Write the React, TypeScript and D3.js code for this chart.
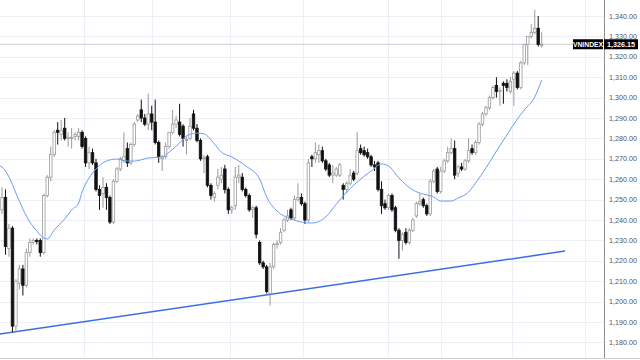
import React from "react";
import * as d3 from "d3";

// OHLC candles: [open, high, low, close]
const candles: [number, number, number, number][] = [
  [1245,1256,1243,1251],[1251,1255,1223,1227],[1226,1238,1222,1236],[1236,1237,1185,1188],
  [1188,1211,1185,1210],[1209,1218,1206,1216],[1216,1218,1203,1208],[1208,1226,1207,1224],
  [1224,1231,1222,1229],[1229,1231,1228,1230],[1230,1231,1228,1229.5],[1230,1231,1222,1224],
  [1224,1253,1223,1252],[1252,1262,1251,1261],[1261,1276,1259,1272],[1272,1284,1271,1283],
  [1284,1288,1277,1283],[1282,1289,1279,1284],[1285,1290,1279,1280],[1280,1283,1276,1280.5],
  [1280,1285,1275,1280.5],[1281,1283,1279,1282],[1281,1285,1279,1283],[1283,1284,1275,1276],
  [1280,1281,1266,1268],[1268,1276,1265,1273],[1273,1275,1267,1268],[1268,1270,1254,1255],
  [1255,1257,1245,1252],[1253,1261,1246,1256],[1256,1258,1245,1251],[1251,1252,1238,1239],
  [1239,1260,1238,1259],[1259,1266,1258,1265],[1265,1271,1264,1270],[1269,1283,1268,1271],
  [1275,1278,1266,1268],[1268,1278,1267,1277],[1277,1288,1276,1287],[1289,1292,1288,1291],
  [1294,1299,1288,1290],[1290,1292,1286,1287],[1287,1302,1284,1292],[1292,1296,1284,1288],
  [1288,1299,1277,1278],[1278,1279,1268,1271],[1270,1272,1264,1271],[1271,1278,1270,1276],
  [1276,1283,1275,1283],[1283,1294,1282,1287],[1287,1291,1285,1289],[1288,1297,1281,1282],
  [1286,1287,1276,1280],[1279,1281,1272,1279.5],[1280,1290,1279,1286],[1292,1294,1284,1285],
  [1285,1287,1278,1279],[1279,1280,1269,1270],[1270,1272,1263,1270.5],[1271,1272,1256,1257],
  [1257,1258,1250,1252],[1251,1254,1249,1253],[1257,1265,1255,1261],[1260,1266,1258,1262],
  [1265,1267,1253,1255],[1255,1256,1243,1245],[1245,1247,1243,1246],[1247,1266,1245,1261],
  [1261,1267,1258,1262],[1261,1263,1254,1255],[1255,1256,1251,1252],[1252,1253,1244,1245],
  [1245,1247,1241,1246],[1246,1247,1231,1233],[1229,1230,1218,1219],[1219,1220,1216,1217],
  [1217,1218,1204,1205],[1204,1219,1198,1217],[1217,1229,1216,1228],[1228,1230,1226,1228.5],
  [1229,1236,1228,1234],[1235,1241,1234,1240],[1240,1245,1239,1242],[1245,1246,1240,1241],
  [1241,1252,1240,1250],[1250,1258,1249,1251],[1251,1253,1247,1248],[1248,1249,1238,1240],
  [1240,1270,1239,1268],[1271,1272,1266,1270],[1270,1278,1268,1273],[1272,1277,1268,1274],
  [1274,1276,1268,1269],[1269,1270,1264,1265],[1267,1268,1261,1262],[1262,1267,1258,1263],
  [1262,1266,1261,1265],[1262,1268,1261,1267],[1257,1258,1250,1255],[1255,1259,1253,1258],
  [1258,1265,1257,1262],[1263,1264,1259,1260],[1263,1283,1262,1274],[1275,1277,1272,1273],
  [1274,1276,1271,1272],[1273,1275,1270,1271],[1271,1272,1266,1267],[1267,1269,1264,1266],
  [1268,1269,1254,1255],[1255,1259,1243,1247],[1248,1250,1245,1246],[1246,1253,1245,1252],
  [1252,1253,1244,1245],[1246,1247,1234,1235],[1235,1236,1221,1230],[1230,1234,1225,1233],
  [1234,1236,1228,1229],[1229,1236,1228,1235],[1235,1241,1234,1240],[1242,1249,1241,1248],
  [1248,1253,1247,1249],[1250,1251,1246,1247],[1247,1248,1242,1243],[1243,1260,1242,1259],
  [1259,1265,1258,1264],[1265,1266,1253,1254],[1254,1266,1253,1264],[1264,1270,1263,1269],
  [1269,1276,1268,1273],[1273,1280,1272,1275],[1275,1279,1260,1262],[1263,1267,1261,1266],
  [1266,1268,1264,1265],[1265,1270,1264,1269],[1269,1280,1268,1274],[1275,1277,1272,1273],
  [1273,1279,1272,1278],[1278,1288,1277,1287],[1287,1293,1286,1292],[1292,1296,1291,1295],
  [1295,1301,1294,1300],[1300,1306,1299,1305],[1306,1310,1300,1303],[1303,1305,1296,1303.5],
  [1307,1308,1297,1306],[1307,1309,1303,1305],[1303,1310,1302,1308],[1309,1313,1296,1312],
  [1312,1313,1304,1305],[1305,1318,1304,1317],[1317,1326,1316,1326],[1326,1330,1316,1330],
  [1330,1336,1329,1332],[1332,1343,1331,1334],[1334,1340,1325,1326],[1325.5,1332,1324.5,1326.15],
];

// Moving average readings: [candle index, value]
const maPoints: [number, number][] = [
  [-0.6,1266.5],[0,1266.0],[2,1261.1],[4,1253.2],[6,1245.4],[8,1239.0],[10,1234.6],[12,1231.2],[13,1230.7],
  [15,1235.1],[18,1240.5],[20,1244.9],[22,1248.3],[23,1253.7],[25,1260.6],[27,1265.0],[30,1268.9],
  [33,1269.9],[36,1268.9],[38,1268.9],[42,1270.4],[46,1270.9],[48,1273.3],[51,1277.7],[53,1281.2],
  [56,1282.6],[58,1282.2],[61,1277.3],[63,1273.3],[66,1270.9],[70,1266.5],[74,1260.1],[76,1251.3],
  [79,1244.4],[83,1240.5],[86,1239.0],[89,1238.5],[93,1241.5],[96,1247.8],[98,1251.8],[102,1258.6],
  [106,1264.0],[109,1267.5],[111,1266.5],[114,1260.6],[118,1254.7],[121,1252.7],[124,1251.3],
  [126,1249.3],[129,1249.3],[131,1250.8],[134,1253.7],[136,1258.1],[139,1265.5],[142,1273.8],
  [145,1281.7],[148,1289.5],[150,1293.9],[153,1300.3],[155,1308.6],
];

// Trend line anchors: [candle index, value]
const trendLine: [number, number][] = [[-0.6, 1184.1], [161.7, 1224.8]];

const priceTicks = [1180,1190,1200,1210,1220,1230,1240,1250,1260,1270,1280,1290,1300,1310,1320,1330,1340];
const monthBreaks = [23.5, 43, 65.5, 86.5, 111, 126, 146.5, 167.5];
const symbol = "VNINDEX";
const lastPrice = 1326.15;

const W = 640, H = 360;
const plotRight = 604;
const plotBottom = 358;

export default function App() {
  const x = d3.scaleLinear().domain([0, candles.length - 1]).range([2, 541.7]);
  const y = d3.scaleLinear().domain([1180, 1340]).range([342.4, 16]);
  const step = x(1) - x(0);
  const bw = step * 0.72;
  const fmt = d3.format(",.2f");
  const maLine = d3.line<[number, number]>().x(d => x(d[0])).y(d => y(d[1])).curve(d3.curveMonotoneX);
  const font = "'Liberation Sans', Arial, sans-serif";

  return (
    <svg width={W} height={H} style={{ position: "absolute", left: 0, top: 0, background: "#fff" }}>
      <defs>
        <clipPath id="plot"><rect x={0} y={0} width={plotRight} height={plotBottom} /></clipPath>
      </defs>
      <rect x={0} y={0} width={W} height={H} fill="#fff" />
      {priceTicks.map(t => (
        <line key={"h" + t} x1={0} x2={plotRight} y1={Math.round(y(t)) + 0.5} y2={Math.round(y(t)) + 0.5} stroke="#eceff5" strokeWidth={1} />
      ))}
      {monthBreaks.map(m => (
        <line key={"v" + m} x1={Math.round(x(m)) + 0.5} x2={Math.round(x(m)) + 0.5} y1={0} y2={plotBottom} stroke="#eceff5" strokeWidth={1} />
      ))}
      <line x1={0} x2={plotRight} y1={y(lastPrice)} y2={y(lastPrice)} stroke="#cfcfcf" strokeWidth={1} />
      <g clipPath="url(#plot)">
        <line x1={x(trendLine[0][0])} y1={y(trendLine[0][1])} x2={x(trendLine[1][0])} y2={y(trendLine[1][1])} stroke="#3a6ee8" strokeWidth={1.5} />
        {candles.map((c, i) => {
          const [o, h, l, cl] = c;
          const up = cl >= o;
          const cx = x(i);
          const top = y(Math.max(o, cl));
          const bot = y(Math.min(o, cl));
          const col = up ? "#9a9a9a" : "#111";
          return (
            <g key={i}>
              <line x1={cx} x2={cx} y1={y(h)} y2={y(l)} stroke={col} strokeWidth={1} />
              <rect x={cx - bw / 2} y={top} width={bw} height={Math.max(1, bot - top)}
                fill={up ? "#fff" : "#111"} stroke={col} strokeWidth={0.8} />
            </g>
          );
        })}
        <path d={maLine(maPoints) || ""} fill="none" stroke="#6b9cf5" strokeWidth={1} />
      </g>
      <line x1={plotRight + 0.5} x2={plotRight + 0.5} y1={0} y2={plotBottom} stroke="#8f8f8f" strokeWidth={1} />
      <line x1={0} x2={W} y1={plotBottom + 0.5} y2={plotBottom + 0.5} stroke="#cfcfcf" strokeWidth={1} />
      {priceTicks.map(t => (
        <text key={"t" + t} x={609} y={y(t)} dy="0.35em" fontSize={7.2} fill="#555" fontFamily={font}>{fmt(t)}</text>
      ))}
      <rect x={573} y={y(lastPrice) - 5} width={30} height={10} fill="#000" />
      <text x={588} y={y(lastPrice)} dy="0.35em" textAnchor="middle" fontSize={6.8} fill="#fff" fontFamily={font} fontWeight="bold">{symbol}</text>
      <rect x={604} y={y(lastPrice) - 5} width={34} height={10} fill="#000" />
      <text x={621} y={y(lastPrice)} dy="0.35em" textAnchor="middle" fontSize={7.2} fill="#fff" fontFamily={font} fontWeight="bold">{fmt(lastPrice)}</text>
    </svg>
  );
}
